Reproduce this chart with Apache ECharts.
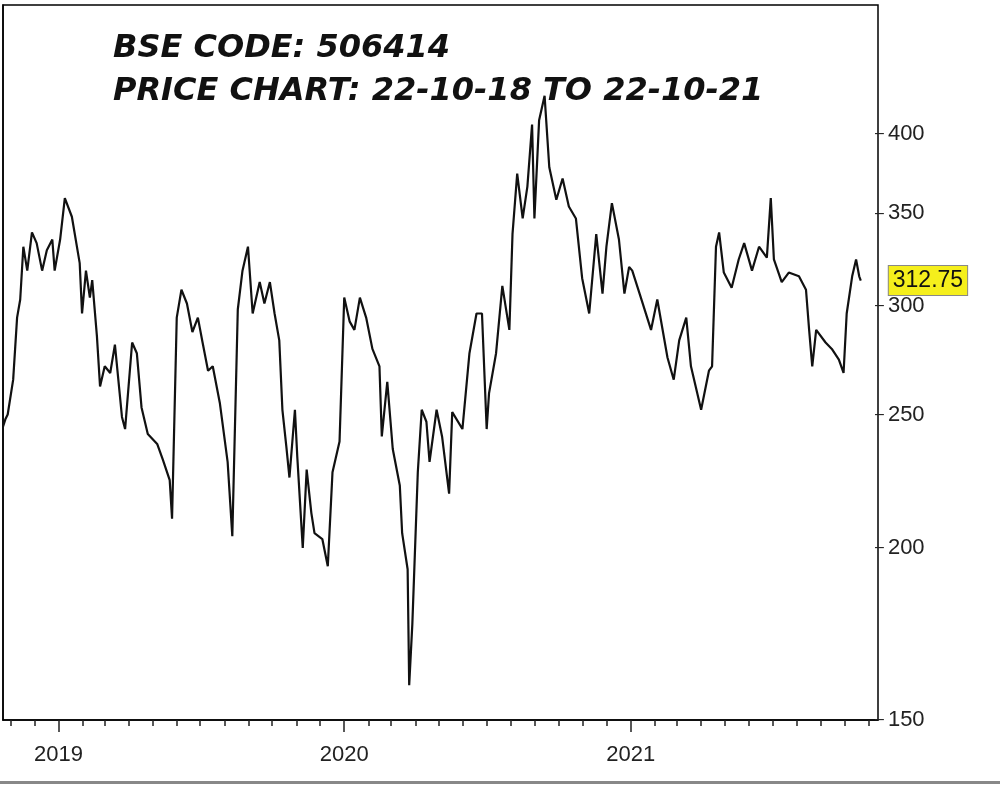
<!DOCTYPE html>
<html><head><meta charset="utf-8">
<script src="https://cdn.jsdelivr.net/npm/echarts@6/dist/echarts.min.js"></script>
<style>html,body{margin:0;padding:0;background:#fff}#c{width:1000px;height:799px}</style>
</head><body><div id="c"></div>
<script>
// days since 2018-10-22
const days = [0,3,6,13,18,22,26,31,37,43,50,56,63,66,73,79,88,98,101,106,111,114,120,124,130,137,143,152,156,165,171,177,185,197,204,213,216,222,228,235,242,249,255,262,268,277,287,293,300,306,313,319,328,334,341,347,353,357,362,366,373,376,383,388,394,398,408,415,421,430,436,443,449,456,464,472,481,484,491,498,507,510,517,519,523,530,535,541,545,554,561,570,574,587,596,605,612,618,621,630,638,647,651,657,664,670,676,679,685,692,698,707,715,723,732,740,749,758,766,771,778,787,794,800,804,815,828,836,849,857,864,873,879,892,902,906,911,915,921,931,940,947,957,966,976,981,985,995,1004,1017,1026,1030,1034,1039,1051,1059,1068,1074,1078,1085,1090,1094,1096];
const prices = [245,248,250,265,294,303,331,318,339,333,318,329,335,318,335,359,348,322,296,318,304,313,285,262,271,268,281,249,244,282,277,253,242,238,232,224,210,294,308,301,287,294,282,269,271,255,231,204,298,318,331,296,312,301,312,296,283,252,237,225,252,233,200,228,212,205,203,194,227,239,304,292,288,304,294,279,271,241,264,236,222,205,193,159,176,227,252,247,231,252,241,219,251,244,277,296,296,244,259,277,310,288,338,374,347,366,406,347,409,426,378,358,371,354,347,314,296,338,306,331,356,335,306,320,318,304,288,303,275,265,283,294,271,252,269,271,331,339,317,309,324,333,318,331,325,359,324,312,317,315,308,288,271,288,282,279,274,268,296,315,324,315,312.75];
const yTicks = [150,200,250,300,350,400];
const yearLabels = ['2019','2020','2021'];
const startDate = Date.UTC(2018,9,22);
const dayOf = (y,m)=> Math.round((Date.UTC(y,m,1)-startDate)/86400000);
const yearDays = yearLabels.map(y=>dayOf(+y,0));
const monthDays = [];
for (let y=2018;y<=2021;y++) for(let m=0;m<12;m++){const d=dayOf(y,m); if(d>=0&&d<=1118) monthDays.push(d);}
const lnMin = Math.log(150), lnMax = Math.log(150)+715/598;
const data = days.map((d,i)=>[d, Math.log(prices[i])]);
const chart = echarts.init(document.getElementById('c'));
chart.setOption({
  animation:false,
  grid:{left:3,right:122,top:5,bottom:79,show:true,borderColor:'#000',borderWidth:1.5,backgroundColor:'#fff'},
  xAxis:[{type:'value',min:0,max:1118,axisLine:{show:true,lineStyle:{color:'#000',width:1.5}},splitLine:{show:false},
    axisTick:{show:true,customValues:monthDays,length:6,inside:false,lineStyle:{color:'#222',width:1.5}},
    axisLabel:{show:true,customValues:yearDays,formatter:v=>yearLabels[yearDays.indexOf(Math.round(v))]||'',fontSize:22,color:'#222',fontFamily:'Liberation Sans',margin:24}},
   {type:'value',min:0,max:1118,position:'bottom',axisLine:{show:false},splitLine:{show:false},
    axisTick:{show:true,customValues:yearDays,length:12,lineStyle:{color:'#222',width:1.5}},axisLabel:{show:false}}],
  yAxis:{type:'value',position:'right',min:lnMin,max:lnMax,axisLine:{show:true,lineStyle:{color:'#000',width:1.5}},splitLine:{show:false},
    axisTick:{show:false},
    axisLabel:{customValues:yTicks.map(Math.log),formatter:v=>'{t|–}'+Math.round(Math.exp(v)),fontSize:22,color:'#222',fontFamily:'Liberation Sans',margin:-3,
      rich:{t:{fontSize:16,color:'#222',padding:[0,4,0,0],fontFamily:'Liberation Sans'}}}},
  series:[{type:'line',data:data,showSymbol:false,lineStyle:{color:'#111',width:2.2},
    endLabel:{show:true,formatter:()=>prices[prices.length-1].toFixed(2),offset:[20,0],backgroundColor:'#f5ef1c',borderColor:'#888',borderWidth:1,
      padding:[4,4,2,4],fontSize:23,color:'#111',fontFamily:'Liberation Sans'}}],
  graphic:[
    {type:'text',left:113,top:27,style:{text:'BSE CODE: 506414\nPRICE CHART: 22-10-18 TO 22-10-21',font:'italic bold 32px "DejaVu Sans"',fill:'#111',lineHeight:43}},
    {type:'rect',shape:{x:0,y:781,width:1000,height:3},style:{fill:'#888'}}
  ]
});
</script></body></html>
